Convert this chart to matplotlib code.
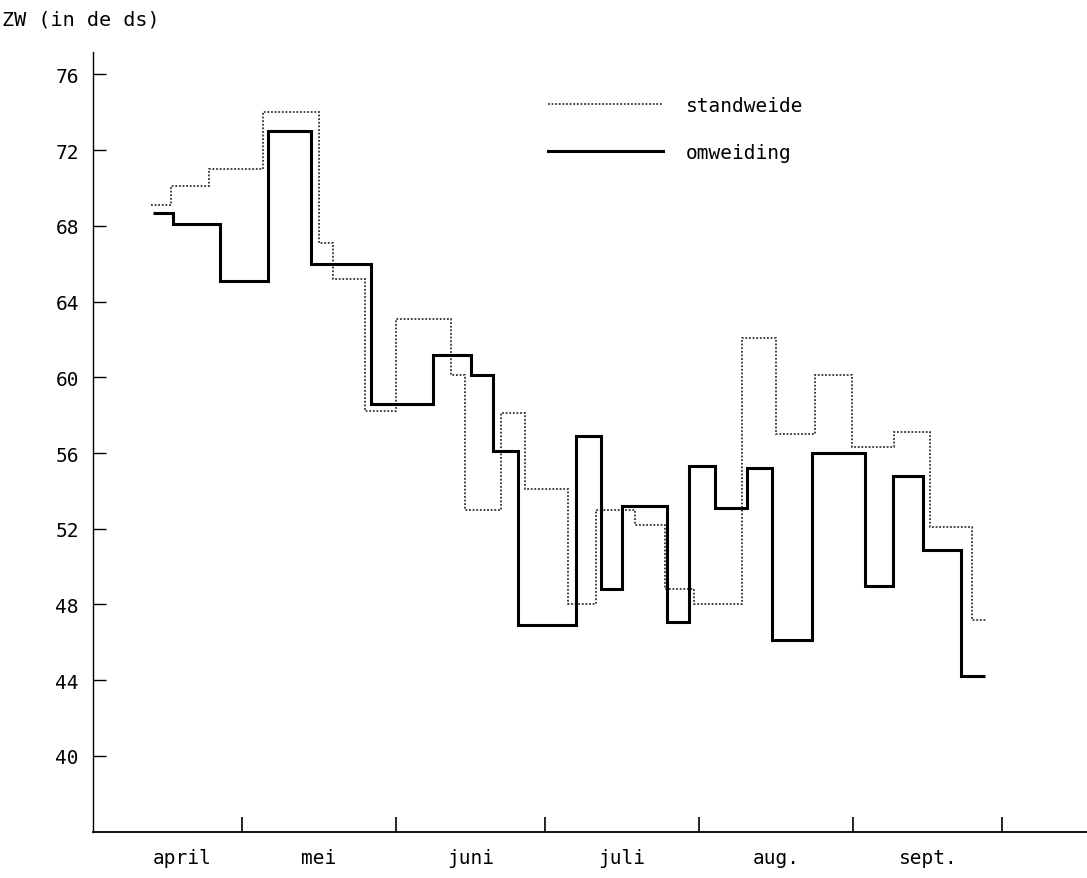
import numpy as np
import matplotlib
matplotlib.use('Agg')
import matplotlib.pyplot as plt

# Data (x in days from 1 april, y = ZW in de ds)
stand_edges = [11.7, 15.7, 23.3, 34.2, 45.6, 48.4, 54.8, 61.1, 72.1, 74.9, 82.2, 87.0,
               95.6, 101.2, 109.1, 115.1, 120.9, 130.6, 137.4, 145.2, 152.7, 161.1,
               168.5, 176.8, 179.8]
stand_values = [69.1, 70.1, 71.0, 74.0, 67.1, 65.2, 58.2, 63.1, 60.1, 53.0, 58.1, 54.1,
                48.0, 53.0, 52.2, 48.8, 48.0, 62.1, 57.0, 60.1, 56.3, 57.1, 52.1, 47.2]

omw_edges = [12.1, 16.1, 25.7, 35.2, 44.0, 56.0, 68.5, 76.1, 80.6, 85.6, 97.2, 102.3,
             106.5, 115.5, 119.9, 125.2, 131.6, 136.6, 144.6, 155.3, 160.9, 167.1,
             174.6, 179.4]
omw_values = [68.7, 68.1, 65.1, 73.0, 66.0, 58.6, 61.2, 60.1, 56.1, 46.9, 56.9, 48.8,
              53.2, 47.1, 55.3, 53.1, 55.2, 46.1, 56.0, 49.0, 54.8, 50.9, 44.2]

# Month boundaries (ticks) and month labels
month_starts = [30, 61, 91, 122, 153, 183]
month_label_pos = [18, 45.5, 76, 106.5, 137.5, 168]
month_labels = ['april', 'mei', 'juni', 'juli', 'aug.', 'sept.']
y_ticks = [40, 44, 48, 52, 56, 60, 64, 68, 72, 76]

plt.rcParams['font.family'] = ['DejaVu Sans Mono']
plt.rcParams['font.size'] = 14

fig = plt.figure(figsize=(10.87, 8.79), dpi=100)
ax = fig.add_axes([0.0853, 0.0527, 0.9147, 0.8874])

# Step lines
ax.stairs(stand_values, stand_edges, baseline=None, color='#333333',
          linestyle=(0, (1, 1)), linewidth=1.3, label='standweide')
ax.stairs(omw_values, omw_edges, baseline=None, color='black',
          linestyle='-', linewidth=2.2, label='omweiding')

# Axis limits
ax.set_xlim(0, 200)
ax.set_ylim(36, 77.2)

# Customize frame
ax.spines['right'].set_visible(False)
ax.spines['top'].set_visible(False)
ax.spines['left'].set_linewidth(1.0)
ax.spines['bottom'].set_linewidth(1.3)

# Y ticks
ax.set_yticks(y_ticks)
ax.tick_params(axis='y', direction='in', length=9.5, width=1.0, pad=10, labelsize=14)

# X ticks at month boundaries, labels in between
ax.set_xticks(month_starts)
ax.set_xticklabels([])
ax.set_xticks(month_label_pos, minor=True)
ax.set_xticklabels(month_labels, minor=True)
ax.tick_params(axis='x', which='major', direction='in', length=11, width=1.2)
ax.tick_params(axis='x', which='minor', length=0, pad=12, labelsize=14)

# Y axis title at top left
fig.text(0.002, 0.977, 'ZW (in de ds)', ha='left', va='center', fontsize=14.5)

# Legend
ax.legend(loc='upper left', bbox_to_anchor=(0.458, 0.9435), frameon=False,
          handlelength=5.9, handletextpad=1.2, labelspacing=1.45, borderpad=0,
          borderaxespad=0, fontsize=14)

plt.savefig('out.png', dpi=100)
